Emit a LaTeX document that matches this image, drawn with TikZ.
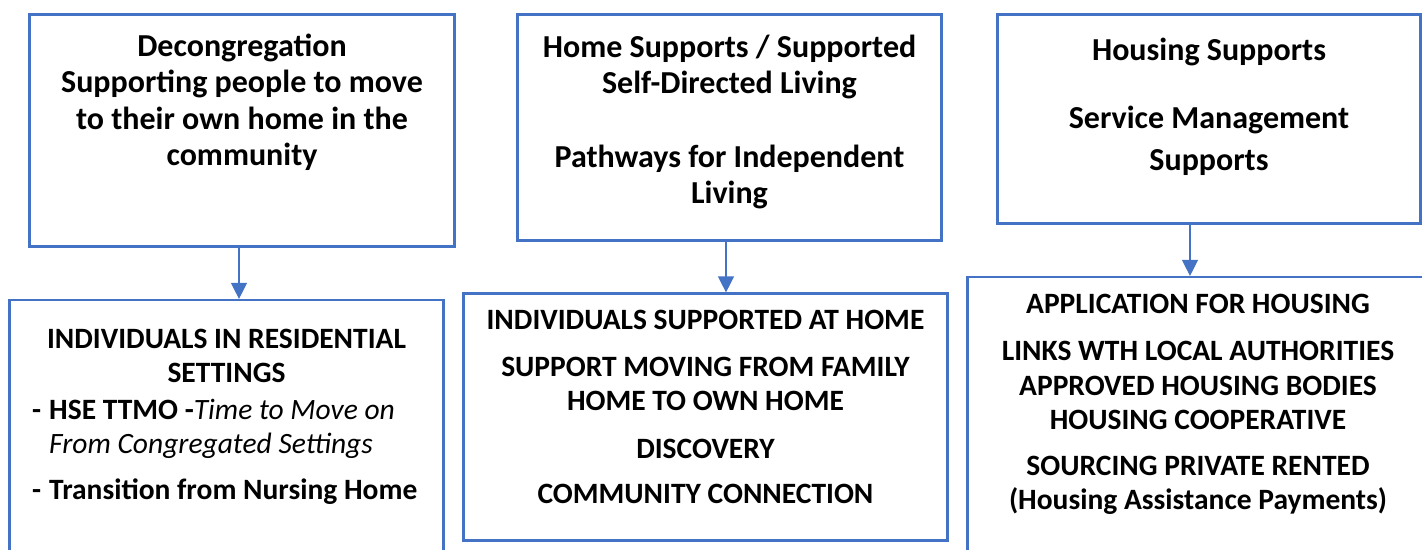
\documentclass[tikz,border=0pt]{standalone}
\usepackage{fontspec}
\setmainfont{Carlito}
\usepackage{xcolor}
\usepackage{tikz}
\usetikzlibrary{arrows.meta}
\usetikzlibrary{calc}
\usetikzlibrary{positioning}

\definecolor{boxblue}{HTML}{4472C4}

\tikzset{
  box/.style={draw=boxblue, line width=2.2pt, inner sep=0pt},
  head/.style={inner sep=0pt, align=center, font=\bfseries\fontsize{32}{36.5}\selectfont},
  items/.style={inner sep=0pt, align=center, font=\bfseries\fontsize{29.5}{34}\selectfont},
  link/.style={draw=boxblue, line width=1.3pt, -{Triangle[width=16pt, length=16pt]}}
}

\begin{document}
\begin{tikzpicture}[x=1pt, y=-1pt]

    \useasboundingbox (0, 0) rectangle (1422, 549);
    \clip (0, 0) rectangle (1422, 549);

    \node [box, minimum width=425pt, minimum height=232pt] (dec) at (242, 130.5) {};
    \node [box, minimum width=424pt, minimum height=226pt] (hsl) at (729.5, 127.5) {};
    \node [box, minimum width=423pt, minimum height=209pt] (hms) at (1209, 119) {};

    \node [box, minimum width=434pt, minimum height=270pt] (res) at (226.5, 435) {};
    \node [box, minimum width=484pt, minimum height=247pt] (hom) at (705.5, 417) {};
    \node [box, minimum width=461pt, minimum height=293pt] (app) at (1198, 423.5) {};

    \node [head, below=20pt of dec.north] (decText)
    {Decongregation\\Supporting people to move\\to their own home in the\\community};
    \node [head, below=21pt of hsl.north] (hslText)
    {Home Supports / Supported\\Self-Directed Living\\[37pt]Pathways for Independent\\Living};
    \node [head, below=24pt of hms.north] (hmsText)
    {Housing Supports\\[32pt]Service Management\\[5pt]Supports};

    \node [items, below=30pt of res.north] (resHead)
    {INDIVIDUALS IN RESIDENTIAL\\SETTINGS};
    \node [items, align=left, anchor=north west] (resList) at (32, 398.5)
    {\makebox[17pt][l]{-}HSE TTMO -\textit{\mdseries Time to Move on}\\
     \hspace*{17pt}\textit{\mdseries From Congregated Settings}\\[12pt]
     \makebox[17pt][l]{-}Transition from Nursing Home};
    \node [items, below=17.5pt of hom.north] (homText)
    {INDIVIDUALS SUPPORTED AT HOME\\[13pt]SUPPORT MOVING FROM FAMILY\\HOME TO OWN HOME\\[14pt]
     DISCOVERY\\[11pt]COMMUNITY CONNECTION};
    \node [items, below=18.5pt of app.north] (appText)
    {APPLICATION FOR HOUSING\\[13pt]LINKS WTH LOCAL AUTHORITIES\\[0.5pt]APPROVED HOUSING BODIES\\[0.5pt]
     HOUSING COOPERATIVE\\[12pt]SOURCING PRIVATE RENTED\\(Housing Assistance Payments)};

    \draw [link] ([xshift=-3pt]dec.south) -- ([xshift=-3pt]dec.south |- res.north);
    \draw [link] ([xshift=-3.5pt]hsl.south) -- ([xshift=-3.5pt]hsl.south |- hom.north);
    \draw [link] ([xshift=-19pt]hms.south) -- ([xshift=-19pt]hms.south |- app.north);

\end{tikzpicture}
\end{document}
